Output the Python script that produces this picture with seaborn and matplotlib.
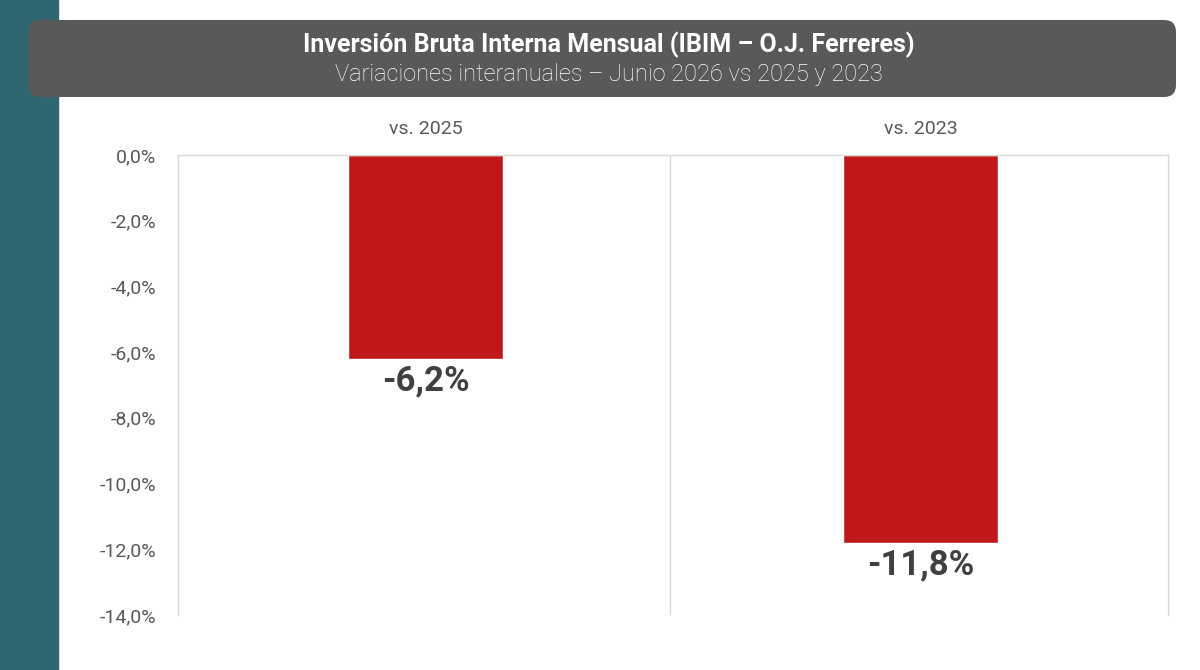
import matplotlib
matplotlib.use("Agg")
import matplotlib.pyplot as plt
import seaborn as sns
import pandas as pd
from matplotlib.patches import Rectangle, FancyBboxPatch
from matplotlib.ticker import FuncFormatter

# ================= DATA =================
categories = ["vs. 2025", "vs. 2023"]
values = [-6.2, -11.8]
title = "Inversión Bruta Interna Mensual (IBIM – O.J. Ferreres)"
subtitle = "Variaciones interanuales – Junio 2026 vs 2025 y 2023"

BAR_COLOR = "#C0171A"
TEAL = "#2E6771"
BOX_GRAY = "#595959"

sns.set_theme(style="white")
plt.rcParams["font.family"] = ["Roboto", "DejaVu Sans"]

df = pd.DataFrame({"cat": categories, "val": values})

fig = plt.figure(figsize=(12, 6.7), dpi=100)
ax = fig.add_axes([178 / 1200, 1 - 615 / 670, 990 / 1200, 460 / 670])

sns.barplot(data=df, x="cat", y="val", color=BAR_COLOR, width=0.314,
            saturation=1, ax=ax)

ax.set_xlim(-0.5, 1.5)
ax.set_ylim(-14, 0)
ax.set_yticks([0, -2, -4, -6, -8, -10, -12, -14])
ax.yaxis.set_major_formatter(FuncFormatter(lambda v, p: f"{v:.1f}%".replace(".", ",")))
ax.xaxis.tick_top()
ax.set_xlabel("")
ax.set_ylabel("")
ax.tick_params(axis="both", length=0, labelsize=14, colors="#595959")
ax.tick_params(axis="x", pad=12)
ax.tick_params(axis="y", pad=16)

for side in ["left", "right", "top"]:
    ax.spines[side].set_color("#D9D9D9")
    ax.spines[side].set_linewidth(1)
ax.spines["bottom"].set_visible(False)
# separator between the two categories
ax.axvline(0.494, color="#D9D9D9", lw=1)

for i, v in enumerate(values):
    ax.annotate(f"{v:.1f}%".replace(".", ","), (i, v), xytext=(0, -4),
                textcoords="offset points", ha="center", va="top",
                fontsize=25, fontweight="bold", color="#404040")

# left teal strip and title box
fig.patches.append(Rectangle((0, 0), 58 / 1200, 1, transform=fig.transFigure,
                             color=TEAL, zorder=0))
box = FancyBboxPatch((28 + 12, 670 - 97 + 12), 1148 - 24, 77 - 24,
                     boxstyle="round,pad=12,rounding_size=12",
                     transform=None, facecolor=BOX_GRAY, edgecolor="none",
                     zorder=1)
fig.patches.append(box)
fig.text(609 / 1200, 1 - 45 / 670, title, ha="center", va="center",
         fontsize=18, fontweight="bold", color="white")
fig.text(609 / 1200, 1 - 74 / 670, subtitle, ha="center", va="center",
         fontsize=17, fontweight="light", color="white")

fig.savefig("out.png", dpi=100)
